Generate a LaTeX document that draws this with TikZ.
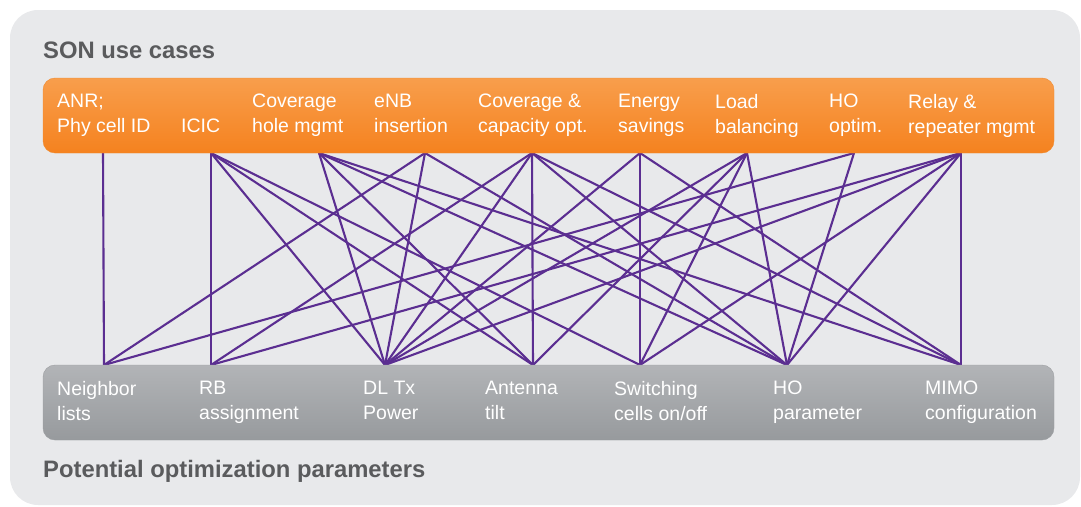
\documentclass[tikz,border=0pt]{standalone}
\usepackage{fontspec}
\setmainfont{Liberation Sans}
\definecolor{sonbg}{HTML}{E8E9EB}
\definecolor{sonorange}{HTML}{F5821F}
\definecolor{sonorangetop}{HTML}{F89E4C}
\definecolor{sonorangeline}{HTML}{F08A2E}
\definecolor{songray}{HTML}{979A9D}
\definecolor{songraytop}{HTML}{B2B4B7}
\definecolor{songrayline}{HTML}{9C9EA1}
\definecolor{sontext}{HTML}{5A5B5D}
\definecolor{sonpurple}{HTML}{5B2E91}
\tikzset{
  heading/.style={anchor=base west,inner sep=0pt,text=sontext,font=\fontsize{23.8}{28}\selectfont\bfseries},
  boxtext/.style={anchor=north west,inner sep=0pt,align=left,text=white,font=\fontsize{19.5}{25}\selectfont},
  link/.style={sonpurple,line width=2.1pt}
}

\begin{document}
\begin{tikzpicture}[x=1pt,y=-1pt]
\useasboundingbox (0,0) rectangle (1081,506);
\fill[sonbg,rounded corners=28pt] (10,10) rectangle (1080,505);

% connection points
\coordinate (anr) at (103,153);
\coordinate (icic) at (211,153);
\coordinate (cov) at (319,153);
\coordinate (enb) at (425,153);
\coordinate (cco) at (532,153);
\coordinate (es) at (640,153);
\coordinate (lb) at (747,153);
\coordinate (hoo) at (854,153);
\coordinate (relay) at (961,153);
\coordinate (nbr) at (104,365);
\coordinate (rb) at (211,365);
\coordinate (dltx) at (385,365);
\coordinate (tilt) at (533,365);
\coordinate (sw) at (640,365);
\coordinate (hop) at (787,365);
\coordinate (mimo) at (961,365);

\foreach \u/\ps in {anr/{nbr},icic/{rb,dltx,tilt,sw},cov/{dltx,tilt,hop,mimo},
  enb/{nbr,dltx,hop},cco/{rb,dltx,tilt,hop,mimo},es/{dltx,sw,mimo},
  lb/{dltx,tilt,sw,hop},hoo/{nbr,hop},relay/{rb,dltx,sw,hop,mimo}}
  \foreach \p in \ps \draw[link] (\u) -- (\p);

\shade[top color=sonorangetop,bottom color=sonorange,draw=sonorangeline,rounded corners=12pt] (43,78) rectangle (1054,153);
\shade[top color=songraytop,bottom color=songray,draw=songrayline,rounded corners=12pt] (43,365) rectangle (1054,440);

\node[heading] (top) at (43,58) {SON use cases};
\node[heading] (bot) at (43,477) {Potential optimization parameters};

\node[boxtext] (tanr) at (57,94) {ANR;\\Phy cell ID};
\node[boxtext] (ticic) at (181,119) {ICIC};
\node[boxtext] (tcov) at (252,94) {Coverage\\hole mgmt};
\node[boxtext] (tenb) at (374,94) {eNB\\insertion};
\node[boxtext] (tcco) at (478,94) {Coverage \&\\capacity opt.};
\node[boxtext] (tes) at (618,94) {Energy\\savings};
\node[boxtext] (tlb) at (715,94) {Load\\balancing};
\node[boxtext] (thoo) at (829,94) {HO\\optim.};
\node[boxtext] (trelay) at (908,94) {Relay \&\\repeater mgmt};

\node[boxtext] (pnbr) at (57,381) {Neighbor\\lists};
\node[boxtext] (prb) at (199,381) {RB\\assignment};
\node[boxtext] (pdltx) at (363,381) {DL Tx\\Power};
\node[boxtext] (ptilt) at (485,381) {Antenna\\tilt};
\node[boxtext] (psw) at (614,381) {Switching\\cells on/off};
\node[boxtext] (phop) at (773,381) {HO\\parameter};
\node[boxtext] (pmimo) at (925,381) {MIMO\\configuration};
\end{tikzpicture}
\end{document}
